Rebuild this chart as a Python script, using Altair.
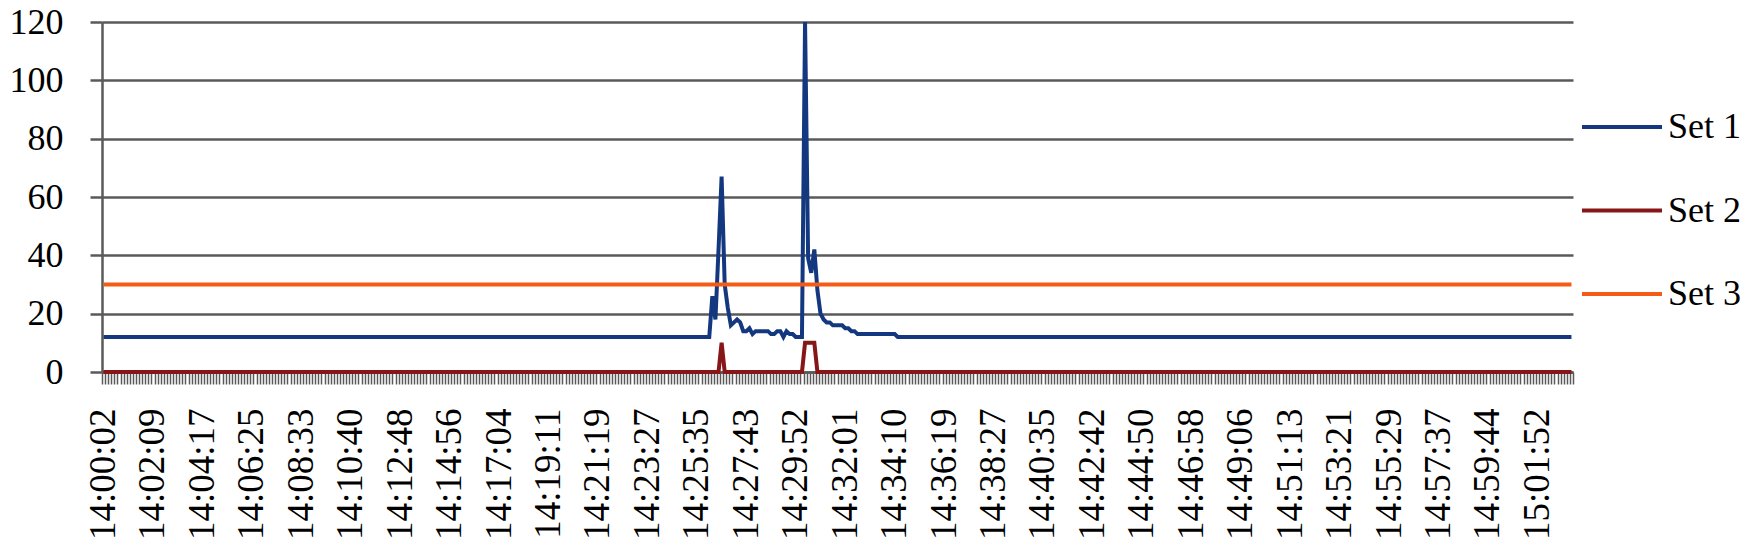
import json
import altair as alt
import pandas as pd

# ---- data ----
N_CATEGORIES = 476          # one sample every ~8 s
LABEL_EVERY = 16            # a time label every 16th category
time_labels = [
    "14:00:02", "14:02:09", "14:04:17", "14:06:25", "14:08:33", "14:10:40",
    "14:12:48", "14:14:56", "14:17:04", "14:19:11", "14:21:19", "14:23:27",
    "14:25:35", "14:27:43", "14:29:52", "14:32:01", "14:34:10", "14:36:19",
    "14:38:27", "14:40:35", "14:42:42", "14:44:50", "14:46:58", "14:49:06",
    "14:51:13", "14:53:21", "14:55:29", "14:57:37", "14:59:44", "15:01:52",
]
series_names = ["Set 1", "Set 2", "Set 3"]
series_colors = ["#143880", "#861617", "#F45B14"]

set1_base = 12
set1_event_start = 196
set1_event = [12, 26, 18, 42, 67, 30, 22, 16, 17, 18, 17, 14, 14, 15, 13,
              14, 14, 14, 14, 14, 13, 13, 14, 14, 12, 14, 13, 13, 12, 12,
              12, 120, 39, 34, 42, 28, 20, 18, 17, 17, 16, 16, 16, 16, 15,
              15, 14, 14, 13, 13, 13, 13, 13, 13, 13, 13, 13, 13, 13, 13,
              13, 12]

set2_base = 0
set2_event_start = 199
set2_event = [0, 10, 0, 0, 0, 0, 0, 0, 0, 0, 0, 0, 0, 0, 0, 0, 0, 0, 0, 0,
              0, 0, 0, 0, 0, 0, 0, 0, 10, 10, 10, 10, 0]

set3_base = 30

y_ticks = [0, 20, 40, 60, 80, 100, 120]

# ---- table ----
rows = []
for k in range(N_CATEGORIES):
    v1 = set1_base
    if set1_event_start <= k < set1_event_start + len(set1_event):
        v1 = set1_event[k - set1_event_start]
    v2 = set2_base
    if set2_event_start <= k < set2_event_start + len(set2_event):
        v2 = set2_event[k - set2_event_start]
    for name, v in zip(series_names, [v1, v2, set3_base]):
        rows.append({"idx": k + 0.5, "series": name, "value": v})
df = pd.DataFrame(rows)

FONT = "'Liberation Serif', 'Times New Roman', Times, serif"
GRAY = "#5a5a5a"

label_expr = (
    "(datum.value % {n} === 0 && datum.value / {n} < {m}) ? {arr}[datum.value / {n}] : ''"
).format(n=LABEL_EVERY, m=len(time_labels), arr=json.dumps(time_labels))

x_axis = alt.Axis(
    values=list(range(N_CATEGORIES + 1)),
    labelExpr=label_expr,
    labelAngle=270,
    labelFont=FONT,
    labelFontSize=37,
    labelColor="black",
    labelPadding=24,
    labelOffset=1.5,
    labelOverlap=False,
    labelBound=False,
    labelFlush=False,
    tickSize=12,
    tickColor=GRAY,
    tickWidth=1.5,
    domainColor=GRAY,
    domainWidth=2.5,
    grid=False,
    title=None,
)

y_axis = alt.Axis(
    values=y_ticks,
    grid=True,
    gridColor=GRAY,
    gridWidth=2.5,
    tickSize=12,
    tickColor=GRAY,
    tickWidth=2.5,
    domainColor=GRAY,
    domainWidth=2.5,
    labelFont=FONT,
    labelFontSize=36,
    labelColor="black",
    labelPadding=27,
    title=None,
)

chart = alt.Chart(df).mark_line(strokeWidth=4).encode(
    x=alt.X("idx:Q", scale=alt.Scale(domain=[0, N_CATEGORIES], nice=False, zero=False), axis=x_axis),
    y=alt.Y("value:Q", scale=alt.Scale(domain=[0, 120], nice=False), axis=y_axis),
    color=alt.Color(
        "series:N",
        scale=alt.Scale(domain=series_names, range=series_colors),
        legend=alt.Legend(
            title=None,
            orient="none",
            legendX=1478,
            legendY=63,
            symbolType="stroke",
            symbolSize=6400,
            symbolStrokeWidth=4,
            labelFont=FONT,
            labelFontSize=36,
            labelColor="black",
            labelOffset=4,
            rowPadding=23.5,
            padding=0,
        ),
    ),
    order=alt.Order("idx:Q"),
).properties(
    width=1471,
    height=350,
    padding={"left": 94, "top": 14, "right": 169, "bottom": 167},
    autosize=alt.AutoSizeParams(type="none"),
).configure_view(strokeWidth=0)

chart.save("out.html", embed_options={"renderer": "svg", "actions": False})
